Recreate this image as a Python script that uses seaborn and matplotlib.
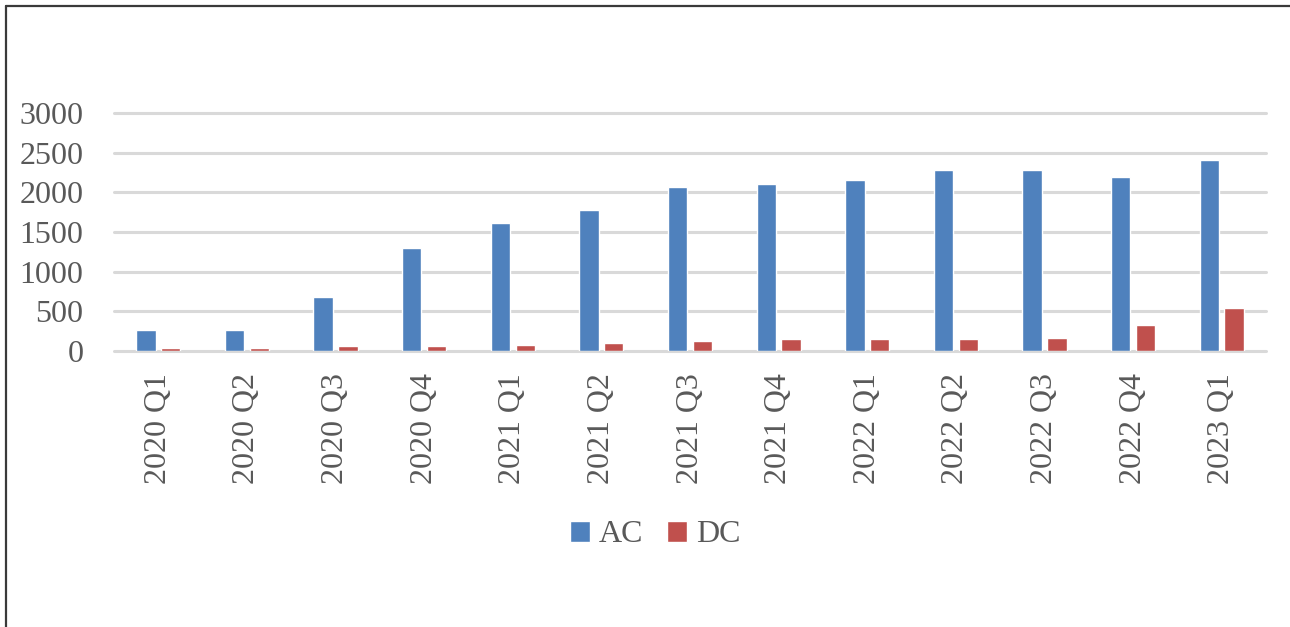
import matplotlib
matplotlib.use("Agg")
import matplotlib.pyplot as plt
from matplotlib.lines import Line2D
import seaborn as sns
import pandas as pd

# Quarterly installations by charger type
quarters = ["2020 Q1", "2020 Q2", "2020 Q3", "2020 Q4",
            "2021 Q1", "2021 Q2", "2021 Q3", "2021 Q4",
            "2022 Q1", "2022 Q2", "2022 Q3", "2022 Q4",
            "2023 Q1"]
ac_values = [265, 265, 677, 1304, 1615, 1780, 2061, 2108, 2158, 2276, 2276, 2192, 2406]
dc_values = [32, 32, 63, 63, 80, 97, 130, 151, 147, 147, 164, 328, 543]
series_names = ["AC", "DC"]
y_ticks = [0, 500, 1000, 1500, 2000, 2500, 3000]

df = pd.DataFrame({
    "quarter": quarters * 2,
    "type": [series_names[0]] * len(quarters) + [series_names[1]] * len(quarters),
    "value": ac_values + dc_values,
})

sns.set_theme(style="white")
plt.rcParams["font.family"] = ["Liberation Serif", "DejaVu Serif"]

text_color = "#595959"
grid_color = "#d9d9d9"
palette = {"AC": "#4f81bd", "DC": "#c0504d"}

fig = plt.figure(figsize=(12.9, 6.27), dpi=100)
ax = fig.add_axes([0.0884, 0.4402, 0.8930, 0.3796])

sns.barplot(data=df, x="quarter", y="value", hue="type", order=quarters,
            hue_order=series_names, palette=palette, width=0.56, gap=0.22,
            saturation=1, ax=ax, legend=True, zorder=3)

ax.set_ylim(0, 3000)
ax.set_xlim(-0.5, len(quarters) - 0.5)
ax.set_yticks(y_ticks)
ax.set_yticklabels([str(t) for t in y_ticks])
ax.set_xlabel("")
ax.set_ylabel("")

ax.yaxis.grid(True, color=grid_color, linewidth=2.2)
ax.xaxis.grid(False)
ax.set_axisbelow(True)
for gl in ax.get_ygridlines():
    gl.set_clip_on(False)
for spine in ax.spines.values():
    spine.set_visible(False)

ax.tick_params(axis="y", length=0, pad=22, labelsize=23, labelcolor=text_color)
ax.tick_params(axis="x", length=0, pad=16, labelsize=23, labelcolor=text_color,
               labelrotation=90)

handles, labels = ax.get_legend_handles_labels()
ax.legend(handles, labels, loc="center", bbox_to_anchor=(0.508, 1 - 535 / 627),
          bbox_transform=fig.transFigure, ncol=2, frameon=False,
          fontsize=23, labelcolor=text_color, handlelength=0.62,
          handleheight=0.62, handletextpad=0.28, columnspacing=0.75,
          borderaxespad=0)

# Frame edges along the top and left of the figure
fig.add_artist(Line2D([0.0047, 1.0], [1 - 5.5 / 627, 1 - 5.5 / 627],
                      transform=fig.transFigure, color="#3a3a3a", linewidth=1.6))
fig.add_artist(Line2D([0.0047, 0.0047], [0, 1 - 5.5 / 627],
                      transform=fig.transFigure, color="#3a3a3a", linewidth=1.6))

fig.savefig("out.png", dpi=100, facecolor="white")
